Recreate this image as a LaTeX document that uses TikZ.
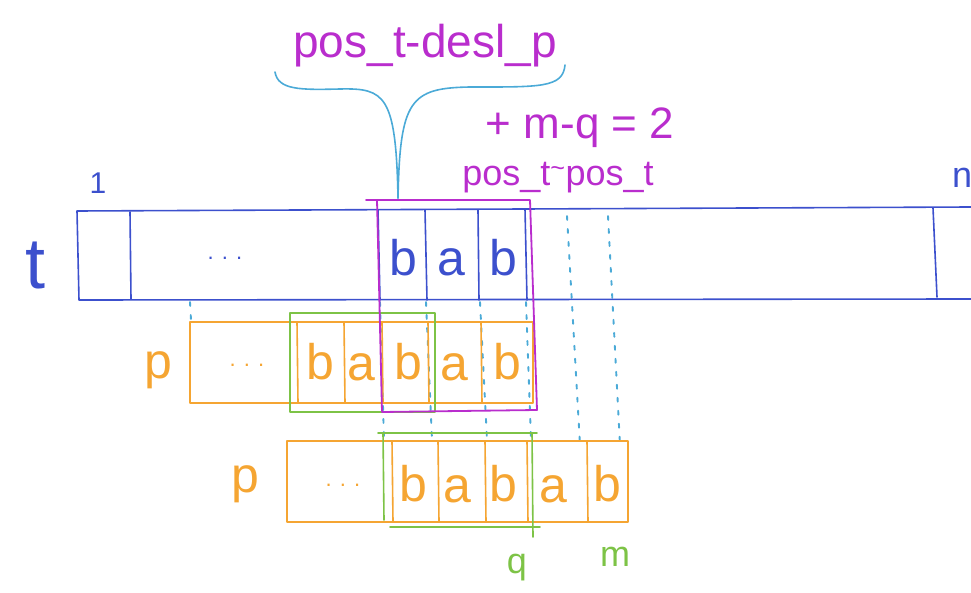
\documentclass[tikz,border=0pt]{standalone}
\usepackage{fontspec}
\setmainfont{Liberation Sans}
\definecolor{tblue}{RGB}{60,80,205}
\definecolor{mag}{RGB}{185,45,205}
\definecolor{org}{RGB}{245,165,50}
\definecolor{grn}{RGB}{125,195,70}
\definecolor{cyn}{RGB}{75,170,215}
\begin{document}
\begin{tikzpicture}[x=1pt,y=-1pt,line cap=round,line join=round,
  tline/.style={tblue,line width=1.6pt},
  pline/.style={org,line width=1.6pt},
  gline/.style={grn,line width=1.6pt},
  mline/.style={mag,line width=1.8pt},
  dline/.style={cyn,line width=1.9pt,dash pattern=on 4pt off 9pt},
  cell/.style={font=\fontsize{50}{50}\selectfont,inner sep=0pt},
  dots/.style={font=\fontsize{22}{22}\selectfont,inner sep=0pt},
  lab/.style={font=\fontsize{36}{36}\selectfont,inner sep=0pt}]
\useasboundingbox (0,0) rectangle (971,593);
% ---- dotted guide lines
\draw[dline] (190,302) -- (191,320);
\draw[dline] (380,302) -- (384,440);
\draw[dline] (426,302) -- (432,440);
\draw[dline] (480,302) -- (487,440);
\draw[dline] (526,302) -- (531,440);
\draw[dline] (567,216) -- (580,445);
\draw[dline] (608,216) -- (620,445);
% ---- t row
\draw[tline] (971,207) -- (77,211) -- (79,300) -- (971,299);
\draw[tline] (130,212) -- (131,299);
\draw[tline] (378,210) -- (380,300);
\draw[tline] (425,210) -- (427,300);
\draw[tline] (478,210) -- (479,300);
\draw[tline] (525,209) -- (527,300);
\draw[tline] (933,208) -- (937,297);
\node[dots,tblue] (tdots) at (225,258) {. . .};
\node[cell,tblue] (t1) at (403,258) {b};
\node[cell,tblue] (t2) at (451,262) {a};
\node[cell,tblue] (t3) at (503,258) {b};
\node[tblue,font=\fontsize{72}{72}\selectfont,inner sep=0pt] (tlab) at (36,266) {t};
\node[tblue,font=\fontsize{30}{30}\selectfont,inner sep=0pt] (one) at (98,183) {1};
\node[tblue,lab] (nlab) at (962,178) {n};
% ---- p row 1
\draw[pline] (190,322) rectangle (533,403);
\foreach \x in {297,344,382,428,481} \draw[pline] (\x,322) -- (\x+1,403);
\draw[gline] (290,313) rectangle (435,412);
\node[dots,org] (p1dots) at (247,365) {. . .};
\node[cell,org] (p11) at (320,362) {b};
\node[cell,org] (p12) at (361,367) {a};
\node[cell,org] (p13) at (408,362) {b};
\node[cell,org] (p14) at (454,367) {a};
\node[cell,org] (p15) at (507,362) {b};
\node[cell,org] (p1lab) at (158,370) {p};
% ---- p row 2
\draw[pline] (287,441) rectangle (628,522);
\foreach \x in {392,438,485,527,587} \draw[pline] (\x,441) -- (\x+1,522);
\draw[gline] (378,433) -- (537,433);
\draw[gline] (390,527) -- (540,527);
\draw[gline] (383,433) -- (384,520);
\draw[gline] (532,433) -- (533,537);
\node[dots,org] (p2dots) at (343,485) {. . .};
\node[cell,org] (p21) at (413,484) {b};
\node[cell,org] (p22) at (457,489) {a};
\node[cell,org] (p23) at (503,484) {b};
\node[cell,org] (p24) at (553,489) {a};
\node[cell,org] (p25) at (607,484) {b};
\node[cell,org] (p2lab) at (245,484) {p};
\node[lab,grn] (qlab) at (517,568) {q};
\node[lab,grn] (mlab) at (615,557) {m};
% ---- magenta window
\draw[mline] (366,200) -- (530,200) -- (537,410) -- (382,412) -- (377,200);
% ---- brace
\draw[cyn,line width=1.6pt] (275,72) .. controls (278,90) and (300,90) .. (340,89)
   .. controls (385,88) and (396,95) .. (398,198);
\draw[cyn,line width=1.6pt] (565,65) .. controls (563,88) and (540,87) .. (470,87)
   .. controls (410,88) and (400,100) .. (398,198);
% ---- magenta labels
\node[mag,font=\fontsize{46}{46}\selectfont,inner sep=0pt] (lab1) at (425,46) {pos\_t-desl\_p};
\node[mag,font=\fontsize{44}{44}\selectfont,inner sep=0pt] (lab2) at (580,128) {+ m-q = 2};
\node[lab,mag] (lab3) at (558,178) {pos\_t\textsuperscript{\textasciitilde}pos\_t};
\end{tikzpicture}
\end{document}
